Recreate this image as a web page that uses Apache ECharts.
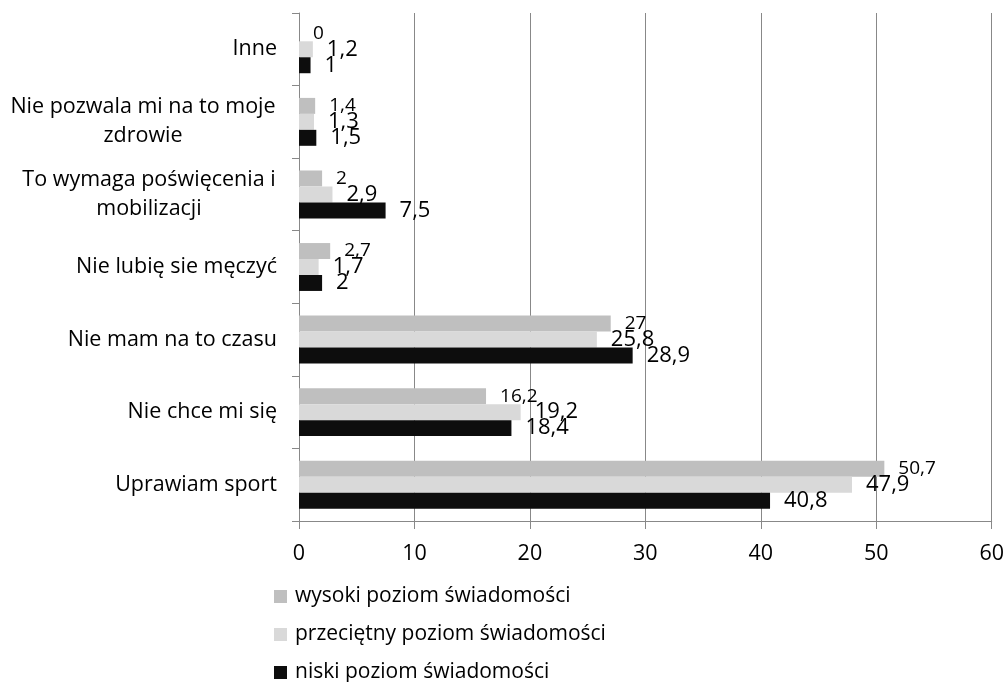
<!DOCTYPE html>
<html><head><meta charset="utf-8">
<script src="https://cdn.jsdelivr.net/npm/echarts@6/dist/echarts.min.js"></script>
<style>html,body{margin:0;padding:0;background:#fff}#c{width:1007px;height:682px}</style>
</head><body><div id="c"></div>
<script>
const categories = ["Inne","Nie pozwala mi na to moje\nzdrowie","To wymaga poświęcenia i\nmobilizacji","Nie lubię sie męczyć","Nie mam na to czasu","Nie chce mi się","Uprawiam sport"];
const seriesNames = ["wysoki poziom świadomości","przeciętny poziom świadomości","niski poziom świadomości"];
const wysoki = [0,1.4,2,2.7,27,16.2,50.7];
const przecietny = [1.2,1.3,2.9,1.7,25.8,19.2,47.9];
const niski = [1,1.5,7.5,2,28.9,18.4,40.8];
const xTicks = [0,10,20,30,40,50,60];

const FONT = 'Open Sans';
const CAT_FS = 21.5;
const colors = ['#bfbfbf','#d9d9d9','#0d0d0d'];

const ctx = document.createElement('canvas').getContext('2d');
ctx.font = CAT_FS + 'px "' + FONT + '"';
function blockWidth(v){
  return Math.ceil(Math.max(...v.split('\n').map(l => ctx.measureText(l).width))) + 2;
}
function catFormatter(v){
  const lines = v.split('\n');
  if (lines.length === 1) return v;
  const w = blockWidth(v);
  return lines.map(l => '{c' + w + '|' + l + '}').join('\n');
}
const rich = {};
categories.forEach(v => {
  if (v.indexOf('\n') >= 0) {
    const w = blockWidth(v);
    rich['c' + w] = {width:w, align:'center', fontSize:CAT_FS, fontFamily:FONT, color:'#000', lineHeight:29};
  }
});

const chart = echarts.init(document.getElementById('c'));
function mk(name, data, color, fs){
  return {name, type:'bar', data, barGap:'0%', barCategoryGap:'34%',
    itemStyle:{color},
    label:{show:true, position:'right', distance:14, color:'#000', fontFamily:FONT, fontSize:fs,
      formatter:p=>String(p.value).replace('.',',')}};
}
chart.setOption({
  animation:false,
  textStyle:{fontFamily:FONT},
  grid:{left:299,right:13,top:13,bottom:161,containLabel:false},
  xAxis:{type:'value', min:xTicks[0], max:xTicks[xTicks.length-1], interval:10,
    axisLine:{show:true,lineStyle:{color:'#888'}},
    axisTick:{show:true,length:8,lineStyle:{color:'#888'}},
    axisLabel:{color:'#000',fontSize:21.5,fontFamily:FONT,margin:22},
    splitLine:{show:true,lineStyle:{color:'#888',width:1}}},
  yAxis:{type:'category', inverse:true, data:categories,
    axisLine:{show:true,lineStyle:{color:'#888'}},
    axisTick:{show:true,length:7,lineStyle:{color:'#888'}},
    axisLabel:{color:'#000',fontSize:CAT_FS,fontFamily:FONT,margin:22,align:'right',
      lineHeight:29, rich, formatter:catFormatter}},
  legend:{orient:'vertical', left:274, top:586, height:200, padding:0, itemGap:17, itemWidth:13, itemHeight:13,
    icon:'rect', textStyle:{color:'#000',fontSize:21,fontFamily:FONT,padding:[0,0,0,3]}, data:seriesNames},
  series:[mk(seriesNames[0],wysoki,colors[0],19),mk(seriesNames[1],przecietny,colors[1],22),mk(seriesNames[2],niski,colors[2],22)]
});
</script></body></html>
